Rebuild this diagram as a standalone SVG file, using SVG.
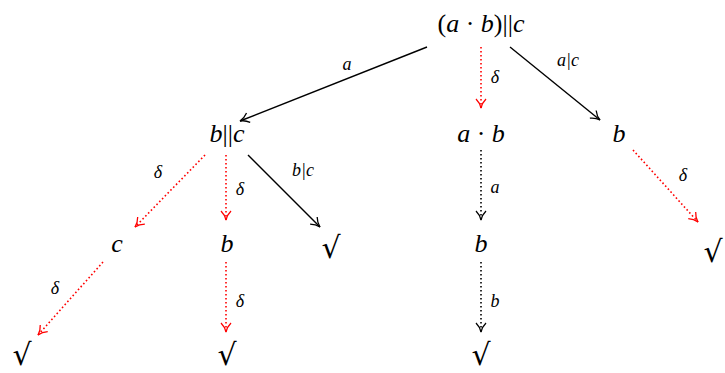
<svg xmlns="http://www.w3.org/2000/svg" width="725" height="373" viewBox="0 0 725 373">
<style>
.n{font-family:"Liberation Serif",serif;font-style:italic;font-size:26px;fill:#000;text-anchor:middle}
.u{font-style:normal}
.t{font-family:"DejaVu Serif","Liberation Serif",serif;font-size:30px;fill:#000;text-anchor:middle}
.l{font-family:"Liberation Serif",serif;font-style:italic;font-size:18px;fill:#000;text-anchor:middle}
.s{stroke:#000;stroke-width:1.4;fill:none}
.rd{stroke:#ff0000;stroke-width:1.6;fill:none;stroke-dasharray:1.6 2.4}
.kd{stroke:#000;stroke-width:1.6;fill:none;stroke-dasharray:1.6 2.4}
</style>
<defs>
<marker id="ak" markerWidth="14" markerHeight="14" refX="10" refY="6" orient="auto" markerUnits="userSpaceOnUse">
<path d="M1,1 Q5,5 10,6 Q5,7 1,11" fill="none" stroke="#000" stroke-width="1.3"/>
</marker>
<marker id="ar" markerWidth="14" markerHeight="14" refX="10" refY="6" orient="auto" markerUnits="userSpaceOnUse">
<path d="M1,1 Q5,5 10,6 Q5,7 1,11" fill="none" stroke="#ff0000" stroke-width="1.3"/>
</marker>
</defs>
<g id="connectors">
<line class="s" x1="427" y1="47" x2="240" y2="121" marker-end="url(#ak)"/>
<line class="rd" x1="481" y1="47" x2="481" y2="108" marker-end="url(#ar)"/>
<line class="s" x1="510" y1="47" x2="600" y2="120" marker-end="url(#ak)"/>
<line class="rd" x1="205" y1="155" x2="135" y2="227" marker-end="url(#ar)"/>
<line class="rd" x1="226" y1="155" x2="226" y2="220" marker-end="url(#ar)"/>
<line class="s" x1="248" y1="155" x2="320" y2="227" marker-end="url(#ak)"/>
<line class="kd" x1="481" y1="150" x2="481" y2="220" marker-end="url(#ak)"/>
<line class="kd" x1="481" y1="262" x2="481" y2="332" marker-end="url(#ak)"/>
<line class="rd" x1="633" y1="150" x2="698" y2="222" marker-end="url(#ar)"/>
<line class="rd" x1="103" y1="262" x2="38" y2="335" marker-end="url(#ar)"/>
<line class="rd" x1="226" y1="262" x2="226" y2="332" marker-end="url(#ar)"/>
<text class="l" x="347" y="70">a</text>
<text class="l" x="495" y="83">δ</text>
<text class="l" x="568" y="66">a|c</text>
<text class="l" x="158" y="178">δ</text>
<text class="l" x="240" y="195">δ</text>
<text class="l" x="303" y="176">b|c</text>
<text class="l" x="495" y="193">a</text>
<text class="l" x="495" y="307">b</text>
<text class="l" x="683" y="181">δ</text>
<text class="l" x="55" y="294">δ</text>
<text class="l" x="240" y="307">δ</text>
</g>
<g id="n-root"><text class="n" x="481" y="32"><tspan class="u">(</tspan>a <tspan class="u">·</tspan> b<tspan class="u">)||</tspan>c</text></g>
<g id="n-bc"><text class="n" x="227" y="142">b<tspan class="u">||</tspan>c</text></g>
<g id="n-ab"><text class="n" x="481" y="142">a <tspan class="u">·</tspan> b</text></g>
<g id="n-b1"><text class="n" x="619" y="142">b</text></g>
<g id="n-c"><text class="n" x="117" y="252">c</text></g>
<g id="n-b2"><text class="n" x="227" y="252">b</text></g>
<g id="n-t1"><text class="t" x="331" y="258">√</text></g>
<g id="n-b3"><text class="n" x="481" y="252">b</text></g>
<g id="n-t2"><text class="t" x="713" y="262">√</text></g>
<g id="n-t3"><text class="t" x="22" y="365">√</text></g>
<g id="n-t4"><text class="t" x="227" y="365">√</text></g>
<g id="n-t5"><text class="t" x="481" y="365">√</text></g>
</svg>
